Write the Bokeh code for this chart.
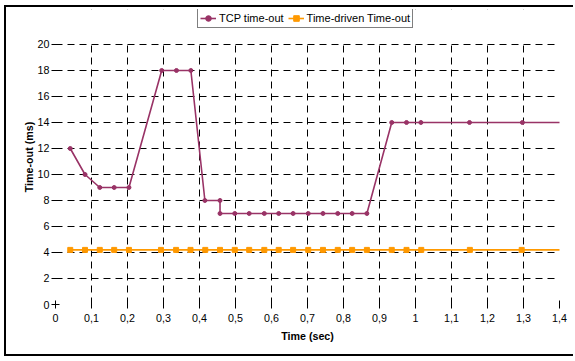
from bokeh.plotting import figure
from bokeh.models import FixedTicker, Legend, LegendItem, Range1d
from bokeh.embed import file_html
from bokeh.resources import INLINE

# ---- data ----
tcp_time = [0.041, 0.082, 0.123, 0.163, 0.204, 0.295, 0.336, 0.376, 0.415, 0.457, 0.457,
            0.498, 0.538, 0.58, 0.62, 0.66, 0.702, 0.743, 0.784, 0.824, 0.865,
            0.934, 0.975, 1.015, 1.15, 1.297, 1.44]
tcp_timeout = [12, 10, 9, 9, 9, 18, 18, 18, 8, 8, 7,
               7, 7, 7, 7, 7, 7, 7, 7, 7, 7,
               14, 14, 14, 14, 14, 14]

td_time = [0.041, 0.082, 0.123, 0.163, 0.204, 0.293, 0.335, 0.375, 0.416, 0.457,
           0.498, 0.538, 0.58, 0.62, 0.66, 0.702, 0.743, 0.784, 0.824, 0.865,
           0.934, 0.975, 1.016, 1.151, 1.295, 1.44]
td_timeout = [4.2] * len(td_time)

x_ticks = [0, 0.1, 0.2, 0.3, 0.4, 0.5, 0.6, 0.7, 0.8, 0.9, 1.0, 1.1, 1.2, 1.3, 1.4]
x_labels = ["0", "0,1", "0,2", "0,3", "0,4", "0,5", "0,6", "0,7", "0,8", "0,9",
            "1", "1,1", "1,2", "1,3", "1,4"]
y_ticks = [0, 2, 4, 6, 8, 10, 12, 14, 16, 18, 20]

Y_MAX = 20
Y_TOP = 22.692   # extra room above the data area that holds the legend

FONT = "Liberation Sans"
FS = "10.7px"
TCP_COLOR = "#993366"
TD_COLOR = "#FF9900"

p = figure(width=569, height=351, output_backend="svg", toolbar_location=None,
           x_range=Range1d(0, 1.4), y_range=Range1d(0, Y_TOP),
           min_border_left=49, min_border_right=16, min_border_top=2, min_border_bottom=54)
p.styles = {"margin-left": "4px", "margin-top": "5px",
            "border-left": "2px solid black", "border-top": "2px solid black",
            "border-bottom": "2px solid black"}
p.outline_line_color = None
p.background_fill_color = "white"
p.border_fill_color = "white"

# grid
for g in (p.xgrid, p.ygrid):
    g.grid_line_color = "black"
    g.grid_line_dash = "7 5"
    g.grid_line_width = 1
p.xgrid.ticker = FixedTicker(ticks=x_ticks)
p.ygrid.ticker = FixedTicker(ticks=y_ticks)

# mask the grid above the top of the value area (legend strip)
p.quad(left=[0], right=[1.4], bottom=[Y_MAX + 0.12], top=[Y_TOP],
       fill_color="white", line_color=None)

# axes
p.xaxis.ticker = FixedTicker(ticks=x_ticks)
p.xaxis.major_label_overrides = {t: l for t, l in zip(x_ticks, x_labels)}
p.yaxis.ticker = FixedTicker(ticks=y_ticks)
p.yaxis.bounds = (0, Y_MAX)
for ax in (p.xaxis[0], p.yaxis[0]):
    ax.axis_line_color = None
    ax.major_tick_line_color = "black"
    ax.major_tick_in = 4
    ax.major_tick_out = 4
    ax.minor_tick_line_color = None
    ax.major_label_text_font = FONT
    ax.major_label_text_font_size = FS
    ax.major_label_text_color = "black"
    ax.axis_label_text_font = FONT
    ax.axis_label_text_font_size = FS
    ax.axis_label_text_font_style = "bold"
    ax.axis_label_text_color = "black"
p.xaxis.axis_label = "Time (sec)"
p.yaxis.axis_label = "Time-out (ms)"
p.xaxis.major_label_standoff = 5
p.xaxis.axis_label_standoff = 5
p.yaxis.major_label_standoff = 2
p.yaxis.axis_label_standoff = 0

# series
r1 = p.line(tcp_time, tcp_timeout, line_color=TCP_COLOR, line_width=1.6)
r1m = p.scatter(tcp_time, tcp_timeout, marker="circle", size=4, fill_color=TCP_COLOR,
                line_color=TCP_COLOR)
r2 = p.line(td_time, td_timeout, line_color=TD_COLOR, line_width=1.6)
r2m = p.scatter(td_time, td_timeout, marker="square", size=5, fill_color=TD_COLOR,
                line_color=TD_COLOR)

legend = Legend(items=[LegendItem(label="TCP time-out", renderers=[r1, r1m]),
                       LegendItem(label="Time-driven Time-out", renderers=[r2, r2m])],
                orientation="horizontal", location=(142, 276))
legend.label_text_font = FONT
legend.label_text_font_size = "11px"
legend.label_text_color = "black"
legend.border_line_color = "black"
legend.border_line_width = 1
legend.background_fill_alpha = 1
legend.padding = 2
legend.spacing = 4
legend.margin = 0
legend.glyph_width = 16
legend.glyph_height = 14
legend.label_standoff = 3
legend.label_height = 14
p.add_layout(legend, "center")

open("out.html", "w").write(file_html(p, INLINE))
